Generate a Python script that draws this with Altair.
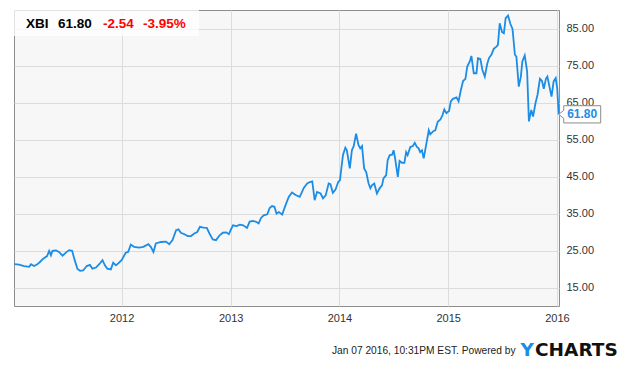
import altair as alt
import pandas as pd

ticker = "XBI"
last_price = 61.80
change = -2.54
change_pct = -3.95
stamp = "Jan 07 2016, 10:31PM EST.  Powered by"

t_years = [
    2011.019, 2011.059, 2011.105, 2011.151, 2011.169, 2011.197, 2011.224, 2011.252, 2011.280, 2011.316,
    2011.335, 2011.351, 2011.367, 2011.399, 2011.427, 2011.459, 2011.491, 2011.519, 2011.546, 2011.569,
    2011.597, 2011.620, 2011.648, 2011.682, 2011.712, 2011.733, 2011.765, 2011.795, 2011.825, 2011.847,
    2011.871, 2011.902, 2011.926, 2011.948, 2011.970, 2012.000, 2012.040, 2012.062, 2012.086, 2012.117,
    2012.163, 2012.202, 2012.246, 2012.270, 2012.294, 2012.316, 2012.362, 2012.408, 2012.439, 2012.469,
    2012.500, 2012.522, 2012.546, 2012.577, 2012.607, 2012.638, 2012.669, 2012.694, 2012.721, 2012.752,
    2012.782, 2012.807, 2012.837, 2012.868, 2012.899, 2012.929, 2012.960, 2012.984, 2013.000, 2013.024,
    2013.055, 2013.086, 2013.116, 2013.153, 2013.178, 2013.208, 2013.239, 2013.260, 2013.282, 2013.306,
    2013.337, 2013.359, 2013.383, 2013.405, 2013.423, 2013.444, 2013.475, 2013.506, 2013.536, 2013.567,
    2013.598, 2013.638, 2013.674, 2013.705, 2013.730, 2013.751, 2013.773, 2013.797, 2013.828, 2013.852,
    2013.874, 2013.904, 2013.920, 2013.941, 2013.966, 2013.990, 2014.006, 2014.020, 2014.034, 2014.055,
    2014.071, 2014.096, 2014.117, 2014.132, 2014.154, 2014.178, 2014.193, 2014.209, 2014.230, 2014.248,
    2014.270, 2014.285, 2014.301, 2014.322, 2014.347, 2014.372, 2014.393, 2014.408, 2014.432, 2014.445,
    2014.464, 2014.485, 2014.500, 2014.515, 2014.537, 2014.556, 2014.577, 2014.598, 2014.616, 2014.629,
    2014.653, 2014.675, 2014.694, 2014.715, 2014.730, 2014.745, 2014.761, 2014.776, 2014.800, 2014.822,
    2014.837, 2014.868, 2014.883, 2014.905, 2014.929, 2014.948, 2014.966, 2014.986, 2015.009, 2015.027,
    2015.046, 2015.077, 2015.098, 2015.117, 2015.138, 2015.160, 2015.178, 2015.200, 2015.215, 2015.236,
    2015.261, 2015.276, 2015.298, 2015.316, 2015.338, 2015.359, 2015.377, 2015.399, 2015.420, 2015.445,
    2015.460, 2015.476, 2015.497, 2015.515, 2015.531, 2015.552, 2015.574, 2015.592, 2015.614, 2015.629,
    2015.650, 2015.669, 2015.684, 2015.706, 2015.727, 2015.745, 2015.767, 2015.782, 2015.804, 2015.822,
    2015.844, 2015.865, 2015.880, 2015.899, 2015.914, 2015.936, 2015.951, 2015.972, 2015.991, 2016.005,
    2016.017,
]

prices = [
    21.3, 21.2, 20.8, 20.6, 21.3, 20.8, 21.2, 21.9, 22.8, 23.5,
    24.9, 23.7, 24.9, 25.0, 24.6, 23.6, 24.5, 25.1, 24.9, 22.6,
    20.0, 19.5, 19.6, 20.8, 21.1, 20.1, 20.4, 21.3, 22.4, 21.0,
    20.1, 19.9, 21.7, 21.0, 21.5, 22.4, 24.4, 24.6, 26.6, 26.0,
    25.8, 26.0, 26.7, 26.0, 24.6, 26.9, 27.3, 27.4, 26.7, 27.8,
    30.5, 30.7, 29.8, 29.4, 28.9, 28.9, 29.6, 30.0, 31.4, 31.2,
    31.1, 29.6, 28.0, 27.8, 29.1, 29.8, 29.9, 29.4, 30.5, 31.8,
    31.6, 32.0, 31.8, 31.1, 32.8, 33.0, 32.7, 32.3, 33.8, 34.5,
    34.8, 36.5, 37.0, 36.8, 35.0, 35.4, 34.7, 37.2, 39.5, 40.7,
    40.0, 39.5, 42.0, 43.1, 43.5, 43.7, 38.6, 40.8, 40.4, 39.1,
    39.9, 43.1, 42.9, 40.6, 41.5, 43.5, 44.0, 47.5, 50.8, 52.8,
    52.1, 47.2, 52.1, 53.2, 56.6, 53.5, 52.6, 53.2, 47.2, 46.2,
    43.1, 41.8, 42.6, 43.1, 40.4, 41.8, 42.6, 44.5, 45.4, 49.4,
    50.8, 50.9, 52.1, 49.9, 44.9, 49.2, 48.7, 48.7, 51.6, 50.8,
    53.0, 53.2, 54.1, 53.0, 52.6, 51.6, 52.1, 49.9, 53.5, 57.5,
    56.4, 57.3, 57.5, 59.8, 60.4, 61.6, 63.1, 62.1, 62.7, 65.3,
    66.0, 66.4, 65.3, 68.1, 70.8, 71.4, 74.7, 76.2, 77.6, 72.9,
    72.9, 77.0, 76.8, 73.8, 72.0, 75.4, 77.0, 77.9, 79.5, 80.1,
    80.6, 86.4, 84.0, 83.7, 87.8, 88.5, 86.2, 84.9, 77.9, 77.4,
    69.3, 72.0, 76.1, 77.7, 73.4, 59.9, 63.0, 61.2, 64.8, 67.1,
    71.4, 70.8, 68.7, 71.4, 72.0, 68.9, 66.6, 70.7, 71.6, 68.9,
    61.8,
]

y_ticks = [15, 25, 35, 45, 55, 65, 75, 85]
x_tick_years = [2012, 2013, 2014, 2015, 2016]
x_start = "2011-01-05"
x_end = "2016-01-08"


def dec_to_date(v):
    yr = int(v)
    start = pd.Timestamp(yr, 1, 1)
    ndays = 366 if yr % 4 == 0 else 365
    return (start + pd.Timedelta(days=(v - yr) * ndays)).strftime("%Y-%m-%d")


df = pd.DataFrame({"date": [dec_to_date(v) for v in t_years], "price": prices})
last_df = df.tail(1)
one = pd.DataFrame({"k": [0]})

LINE = "#1b8de6"
FONT = "Liberation Sans"

x_enc = alt.X(
    "date:T",
    scale=alt.Scale(type="utc", domain=[x_start, x_end]),
    axis=alt.Axis(
        values=[alt.DateTime(year=y, month=1, date=1, utc=True) for y in x_tick_years],
        format="%Y", title=None, grid=True, gridColor="#dcdcdc", domain=False,
        ticks=False, labelFontSize=11, labelColor="#333333", labelFont=FONT,
        labelPadding=6, labelFlush=False, labelOverlap=False,
    ),
)
y_enc = alt.Y(
    "price:Q",
    scale=alt.Scale(domain=[10, 90], nice=False, zero=False),
    axis=alt.Axis(
        orient="right", values=y_ticks, format=".2f", title=None, grid=True,
        gridColor="#dcdcdc", domain=False, ticks=False, labelFontSize=11,
        labelColor="#333333", labelFont=FONT, labelPadding=7,
    ),
)

line = alt.Chart(df).mark_line(color=LINE, strokeWidth=1.8).encode(x=x_enc, y=y_enc)

box_path = "M-1,0 L-0.76,-0.19 L-0.76,-0.41 L1,-0.41 L1,0.41 L-0.76,0.41 L-0.76,0.19 Z"
tag = alt.Chart(last_df).mark_point(
    shape=box_path, size=1764, filled=True, fill="white", stroke="#8c8c8c",
    strokeWidth=1, opacity=1, xOffset=21,
).encode(x="date:T", y="price:Q")
tag_text = alt.Chart(last_df).mark_text(
    dx=23.5, align="center", baseline="middle", font=FONT, fontSize=12,
    fontWeight="bold", color=LINE,
).encode(x="date:T", y="price:Q", text=alt.Text("price:Q", format=".2f"))

head_bg = alt.Chart(one).mark_rect(color="white", opacity=0.75).encode(
    x=alt.value(0), x2=alt.value(185), y=alt.value(0), y2=alt.value(26)
)


def txt(s, x, y, size, color, weight="normal", font=FONT):
    return alt.Chart(one).mark_text(
        text=s, align="left", baseline="alphabetic", font=font, fontSize=size,
        fontWeight=weight, color=color,
    ).encode(x=alt.value(x), y=alt.value(y))


h1 = txt(ticker, 12, 18, 13.5, "black", "bold")
h2 = txt(f"{last_price:.2f}", 44, 18, 13.5, "black", "bold")
h3 = txt(f"{change:.2f}", 89, 18, 13.5, "#ff0000", "bold")
h4 = txt(f"{change_pct:.2f}%", 129, 18, 13.5, "#ff0000", "bold")
foot = txt(stamp, 318, 344, 10.2, "#222222")
logo_y = txt("Y", 506.5, 346, 18.5, LINE, "bold", "DejaVu Sans")
logo_rest = txt("CHARTS", 521, 346, 18.5, "#111111", "bold", "DejaVu Sans")

chart = alt.layer(
    line, head_bg, h1, h2, h3, h4, tag, tag_text, foot, logo_y, logo_rest
).properties(
    width=545, height=296,
    padding={"left": 2, "top": 2, "right": 0, "bottom": 0},
).configure_view(fill="#f7f7f7", stroke="#8c8c8c", strokeWidth=1)

chart.save("out.html", embed_options={"renderer": "svg", "actions": False})
